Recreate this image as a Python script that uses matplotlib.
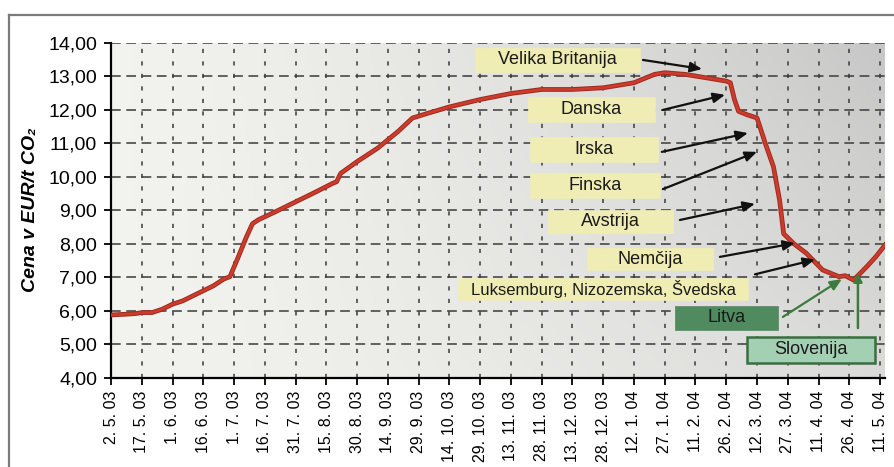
import matplotlib
matplotlib.use("Agg")
import matplotlib.pyplot as plt
import numpy as np
from matplotlib.patches import Rectangle
from matplotlib.lines import Line2D
import matplotlib.patheffects as pe

plt.rcParams['font.family'] = ['Liberation Sans', 'DejaVu Sans']
plt.rcParams['lines.scale_dashes'] = False

# --- data (day offset from 2. 5. 2003, price EUR/t CO2) ---
days = [0, 7, 12, 15, 20, 25, 30, 35, 40, 45, 50, 55, 58, 62, 66, 69, 72, 80, 90,
        100, 108, 110, 112, 120, 130, 140, 147, 155, 165, 180, 195, 210, 225, 240,
        255, 265, 270, 280, 290, 300, 302, 304, 306, 310, 315, 319, 323, 326, 328,
        333, 339, 347, 355, 358, 362, 365, 369, 373, 378]
prices = [5.88, 5.90, 5.92, 5.95, 5.95, 6.05, 6.20, 6.30, 6.45, 6.60, 6.75, 6.95, 7.02,
          7.60, 8.20, 8.60, 8.72, 8.95, 9.25, 9.55, 9.80, 9.85, 10.10, 10.45, 10.85,
          11.35, 11.75, 11.90, 12.08, 12.30, 12.48, 12.60, 12.60, 12.65, 12.80, 13.05,
          13.10, 13.05, 12.95, 12.85, 12.80, 12.30, 11.95, 11.85, 11.75, 11.00, 10.30,
          9.30, 8.30, 8.00, 7.72, 7.22, 7.02, 7.05, 6.92, 7.10, 7.35, 7.62, 8.01]

x_tick_labels = ["2. 5. 03", "17. 5. 03", "1. 6. 03", "16. 6. 03", "1. 7. 03",
                 "16. 7. 03", "31. 7. 03", "15. 8. 03", "30. 8. 03", "14. 9. 03",
                 "29. 9. 03", "14. 10. 03", "29. 10. 03", "13. 11. 03", "28. 11. 03",
                 "13. 12. 03", "28. 12. 03", "12. 1. 04", "27. 1. 04", "11. 2. 04",
                 "26. 2. 04", "12. 3. 04", "27. 3. 04", "11. 4. 04", "26. 4. 04",
                 "11. 5. 04"]
y_ticks = [4, 5, 6, 7, 8, 9, 10, 11, 12, 13, 14]

# annotations: label, box (x0, x1, y0, y1), arrow tail, arrow head, style
annotations = [
    ("Velika Britanija", (177.5, 257.9, 13.12, 13.84), (259.4, 13.48), (288.2, 13.21), "y"),
    ("Danska", (203.3, 265.2, 11.63, 12.38), (269.1, 11.99), (299.4, 12.44), "y"),
    ("Irska", (204.3, 266.7, 10.44, 11.18), (268.6, 10.74), (310.6, 11.30), "y"),
    ("Finska", (204.3, 267.7, 9.37, 10.11), (269.1, 9.63), (315.0, 10.74), "y"),
    ("Avstrija", (213.1, 274.0, 8.32, 9.01), (277.4, 8.71), (314.0, 9.19), "y"),
    ("Nemčija", (232.1, 293.5, 7.22, 7.87), (296.9, 7.61), (333.5, 8.02), "y"),
    ("Luksemburg, Nizozemska, Švedska", (169.2, 310.6, 6.33, 6.98), (314.0, 7.09), (343.3, 7.53), "y"),
    ("Litva", (275.0, 325.2, 5.43, 6.15), (327.6, 5.82), (356.4, 6.95), "g"),
    ("Slovenija", (310.1, 372.5, 4.45, 5.22), (364.2, 5.49), (364.2, 7.13), "s"),
]

W, H = 894, 467
fig = plt.figure(figsize=(W / 100, H / 100), dpi=100)
fig.patch.set_facecolor('white')

# outer frame (cropped at right and bottom)
fig.add_artist(Line2D([8.5 / W, 8.5 / W], [0, 1 - 15 / H], transform=fig.transFigure,
                      color='#7a7a7a', lw=1.6))
fig.add_artist(Line2D([8.5 / W, 1], [1 - 15 / H, 1 - 15 / H], transform=fig.transFigure,
                      color='#7a7a7a', lw=1.6))

ax = fig.add_axes([111 / W, 89 / H, 774 / W, 335.5 / H])
xmax = 377.4
ax.set_xlim(0, xmax)
ax.set_ylim(4, 14)

# background gradient
nx, ny = 200, 100
gx = np.linspace(0, 1, nx)[None, :]
gy = np.linspace(0, 1, ny)[:, None]
t = (gx ** 1.4) * (0.55 + 0.45 * gy)
light = np.array([0.95, 0.95, 0.935])
dark = np.array([0.78, 0.78, 0.78])
img = light[None, None, :] * (1 - t[..., None]) + dark[None, None, :] * t[..., None]
ax.imshow(img, extent=[0, xmax, 4, 14], origin='lower', aspect='auto', zorder=0)

# grid
xt = list(range(0, 376, 15))
for x in xt[1:]:
    ax.plot([x, x], [4, 14], color='#3a3a3a', lw=1.1, dashes=(3, 6), zorder=1)
for y in y_ticks[1:]:
    ax.plot([0, xmax], [y, y], color='#3a3a3a', lw=1.1, dashes=(7, 4), zorder=1)

# line
ax.plot(days, prices, color='#cc3b2b', lw=2.0, zorder=5, solid_joinstyle='round',
        path_effects=[pe.Stroke(linewidth=3.4, foreground='#9e2a1e'), pe.Normal()])

ax.set_xticks(xt)
ax.set_xticklabels(x_tick_labels, rotation=90, fontsize=11.5)
ax.set_yticks(y_ticks)
ax.set_yticklabels([f"{v:.2f}".replace('.', ',') for v in y_ticks], fontsize=14)
ax.tick_params(axis='both', direction='out', length=5, width=1.3, color='black')
ax.tick_params(axis='y', pad=5)
ax.tick_params(axis='x', pad=4)
for s in ['top', 'right']:
    ax.spines[s].set_visible(False)
for s in ['left', 'bottom']:
    ax.spines[s].set_linewidth(1.6)
    ax.spines[s].set_color('black')

ax.set_ylabel("Cena v EUR/t CO₂", fontsize=14, fontweight='bold', fontstyle='italic')
ax.yaxis.set_label_coords(-0.093, 0.5)

styles = {
    "y": dict(fc='#efedb4', ec='#efedb4', lw=0.5, tc='#1a1a1a', ac='#111111'),
    "g": dict(fc='#4f8b5e', ec='#4f8b5e', lw=0.5, tc='#1a1a1a', ac='#3d7a3d'),
    "s": dict(fc='#a3d0b2', ec='#3b6e3f', lw=1.8, tc='#1a1a1a', ac='#3d7a3d'),
}
for label, (x0, x1, y0, y1), tail, head, st in annotations:
    s = styles[st]
    ax.add_patch(Rectangle((x0, y0), x1 - x0, y1 - y0, facecolor=s['fc'],
                           edgecolor=s['ec'], lw=s['lw'], zorder=6, clip_on=False))
    fs = 12.0 if label.startswith("Luks") else 13
    ax.text((x0 + x1) / 2, (y0 + y1) / 2, label, ha='center', va='center',
            fontsize=fs, color=s['tc'], zorder=7)
    if st == "s":
        arrowprops = dict(arrowstyle='-|>,head_length=0.5,head_width=0.25', color=s['ac'],
                          lw=1.8, shrinkA=0, shrinkB=0)
    else:
        arrowprops = dict(arrowstyle='-|>,head_length=0.7,head_width=0.3', color=s['ac'],
                          lw=1.6, shrinkA=0, shrinkB=0)
    ax.annotate("", xy=head, xytext=tail, arrowprops=arrowprops, zorder=8,
                annotation_clip=False)

fig.savefig("out.png", dpi=100)
